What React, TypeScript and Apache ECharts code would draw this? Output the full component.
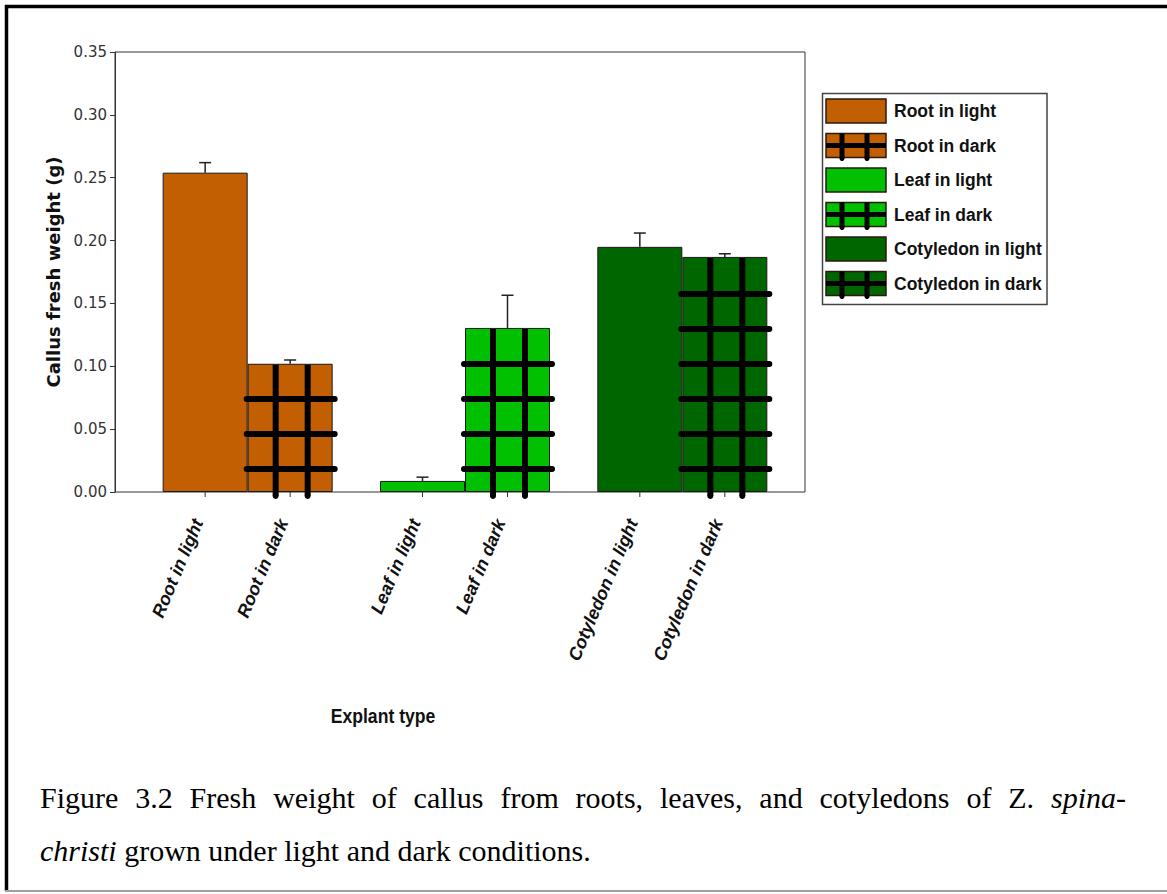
import React, { useEffect, useRef } from "react";
import * as echarts from "echarts";

// ---------- data ----------
const categories = ["Root", "Leaf", "Cotyledon"];
const seriesNames = [
  "Root in light",
  "Root in dark",
  "Leaf in light",
  "Leaf in dark",
  "Cotyledon in light",
  "Cotyledon in dark",
];
const lightValues = [0.254, 0.0088, 0.195];
const darkValues = [0.102, 0.1305, 0.187];
const lightErrors = [0.008, 0.003, 0.011];
const darkErrors = [0.003, 0.026, 0.0025];
const yMin = 0;
const yMax = 0.35;
const yInterval = 0.05;
const captionLine1 = [
  "Figure", "3.2", "Fresh", "weight", "of", "callus", "from", "roots,",
  "leaves,", "and", "cotyledons", "of", "Z.", "spina-",
];
const captionLine1Italic = [false, false, false, false, false, false, false, false, false, false, false, false, false, true];
const captionLine2Italic = "christi";
const captionLine2Rest = "grown under light and dark conditions.";
const yAxisTitle = "Callus fresh weight (g)";
const xAxisTitle = "Explant type";

// ---------- styles ----------
const groupColors = ["#C25F03", "#00C000", "#006600"];
const BAR_W = 85;

function measure(text: string, font: string): number {
  const c = document.createElement("canvas").getContext("2d")!;
  c.font = font;
  return c.measureText(text).width;
}
function hasFont(name: string): boolean {
  const t = "Explant type abcdefghij 0123";
  return measure(t, `20px monospace`) !== measure(t, `20px "${name}", monospace`);
}

export default function App() {
  const ref = useRef<HTMLDivElement>(null);
  useEffect(() => {
    document.body.style.margin = "0";
    const chart = echarts.init(ref.current!, undefined, { renderer: "svg" });
    const narrow = hasFont("Liberation Sans Narrow");
    const explantFont = narrow
      ? 'bold 21px "Liberation Sans Narrow", sans-serif'
      : 'bold 20px "Liberation Sans", sans-serif';
    const explantScaleX = narrow ? 1 : 0.88;

    const barSeries: any[] = [];
    categories.forEach((_, i) => {
      barSeries.push({
        type: "bar",
        name: seriesNames[2 * i],
        xAxisIndex: 1,
        yAxisIndex: 1,
        stack: "light",
        barWidth: BAR_W,
        barGap: "0%",
        data: categories.map((__, j) => (j === i ? lightValues[i] : null)),
        itemStyle: { color: groupColors[i], borderColor: "#1a1a1a", borderWidth: 1 },
        z: 2,
      });
      barSeries.push({
        type: "bar",
        name: seriesNames[2 * i + 1],
        xAxisIndex: 1,
        yAxisIndex: 1,
        stack: "dark",
        barWidth: BAR_W,
        barGap: "0%",
        data: categories.map((__, j) => (j === i ? darkValues[i] : null)),
        itemStyle: { color: groupColors[i], borderColor: "#1a1a1a", borderWidth: 1 },
        z: 2,
      });
    });

    const overlayData: any[] = [];
    categories.forEach((_, i) => {
      overlayData.push([i, lightValues[i], lightErrors[i], 0]);
      overlayData.push([i, darkValues[i], darkErrors[i], 1]);
    });

    const overlay = {
      type: "custom",
      xAxisIndex: 1,
      yAxisIndex: 1,
      silent: true,
      clip: false,
      z: 5,
      encode: { x: 0, y: 1 },
      data: overlayData,
      renderItem: (params: any, api: any) => {
        const cat = api.value(0);
        const v = api.value(1);
        const e = api.value(2);
        const slot = api.value(3);
        const base = api.coord([cat, 0]);
        const half = BAR_W / 2;
        const cx = base[0] + (slot === 0 ? -half : half);
        const left = cx - half;
        const right = cx + half;
        const y0 = base[1];
        const yTop = api.coord([cat, v])[1];
        const yErr = api.coord([cat, v + e])[1];
        const children: any[] = [];
        if (slot === 1) {
          const h = y0 - yTop;
          for (let d = 23; d < h - 12; d += 35) {
            children.push({
              type: "line",
              shape: { x1: left - 1, y1: y0 - d, x2: right + 2, y2: y0 - d },
              style: { stroke: "#000", lineWidth: 6, lineCap: "round" },
            });
          }
          [28, 60].forEach((dx) => {
            children.push({
              type: "line",
              shape: { x1: left + dx, y1: yTop + 1, x2: left + dx, y2: y0 + 4 },
              style: { stroke: "#000", lineWidth: 6, lineCap: "butt" },
            });
            children.push({
              type: "circle",
              shape: { cx: left + dx, cy: y0 + 4, r: 3 },
              style: { fill: "#000" },
            });
          });
        }
        children.push({
          type: "line",
          shape: { x1: cx, y1: yTop, x2: cx, y2: yErr },
          style: { stroke: "#222", lineWidth: 1.5 },
        });
        children.push({
          type: "line",
          shape: { x1: cx - 6, y1: yErr, x2: cx + 6, y2: yErr },
          style: { stroke: "#222", lineWidth: 1.5 },
        });
        children.push({
          type: "line",
          shape: { x1: cx, y1: y0, x2: cx, y2: y0 + 5 },
          style: { stroke: "#333", lineWidth: 1 },
        });
        children.push({
          type: "text",
          x: cx - 7,
          y: y0 + 28,
          rotation: (67 * Math.PI) / 180,
          style: {
            text: seriesNames[params.dataIndex],
            font: 'italic bold 18px "Liberation Sans", Arial, sans-serif',
            fill: "#111",
            align: "right",
            verticalAlign: "middle",
          },
        });
        return { type: "group", children };
      },
    };

    const legendChildren: any[] = [
      {
        type: "rect",
        shape: { x: 822.5, y: 93.5, width: 224.5, height: 211 },
        style: { fill: "#fff", stroke: "#444", lineWidth: 1.5 },
      },
    ];
    seriesNames.forEach((name, k) => {
      const g = Math.floor(k / 2);
      const dark = k % 2 === 1;
      const top = 99 + k * 34.5;
      const x = 826;
      const w = 60;
      const h = 24;
      legendChildren.push({
        type: "rect",
        shape: { x, y: top, width: w, height: h },
        style: { fill: groupColors[g], stroke: "#2a1a10", lineWidth: 1.5 },
      });
      if (dark) {
        legendChildren.push({
          type: "line",
          shape: { x1: x, y1: top + h / 2, x2: x + w, y2: top + h / 2 },
          style: { stroke: "#000", lineWidth: 5 },
        });
        [16, 41].forEach((dx) => {
          legendChildren.push({
            type: "line",
            shape: { x1: x + dx, y1: top, x2: x + dx, y2: top + h + 1 },
            style: { stroke: "#000", lineWidth: 5 },
          });
          legendChildren.push({
            type: "circle",
            shape: { cx: x + dx, cy: top + h + 1, r: 2.5 },
            style: { fill: "#000" },
          });
        });
      }
      legendChildren.push({
        type: "text",
        x: 894,
        y: top + h / 2,
        style: {
          text: name,
          font: 'bold 17.5px "Liberation Sans", Arial, sans-serif',
          fill: "#111",
          align: "left",
          verticalAlign: "middle",
        },
      });
    });

    const capFont = '30px "Liberation Serif", "Times New Roman", serif';
    const capFontI = 'italic 30px "Liberation Serif", "Times New Roman", serif';
    const widths = captionLine1.map((w, i) => measure(w, captionLine1Italic[i] ? capFontI : capFont));
    const total = widths.reduce((a, b) => a + b, 0);
    const x0 = 40;
    const x1 = 1126;
    const gap = (x1 - x0 - total) / (captionLine1.length - 1);
    const captionChildren: any[] = [];
    let cxp = x0;
    captionLine1.forEach((w, i) => {
      captionChildren.push({
        type: "text",
        x: cxp,
        y: 797,
        style: {
          text: w,
          font: captionLine1Italic[i] ? capFontI : capFont,
          fill: "#000",
          align: "left",
          verticalAlign: "middle",
        },
      });
      cxp += widths[i] + gap;
    });
    const wI = measure(captionLine2Italic, capFontI);
    const wSp = measure(" ", capFont);
    captionChildren.push({
      type: "text",
      x: x0,
      y: 850,
      style: { text: captionLine2Italic, font: capFontI, fill: "#000", align: "left", verticalAlign: "middle" },
    });
    captionChildren.push({
      type: "text",
      x: x0 + wI + wSp,
      y: 850,
      style: { text: captionLine2Rest, font: capFont, fill: "#000", align: "left", verticalAlign: "middle" },
    });

    const option: any = {
      animation: false,
      backgroundColor: "#fff",
      grid: [
        {
          left: 115, top: 52, width: 690, height: 440,
          show: true, borderColor: "#333", borderWidth: 1, backgroundColor: "transparent",
          outerBoundsMode: "none",
        },
        { left: 139, top: 52, width: 652, height: 440, outerBoundsMode: "none" },
      ],
      xAxis: [
        { gridIndex: 0, type: "value", min: 0, max: 1, show: false },
        { gridIndex: 1, type: "category", data: categories, show: false },
      ],
      yAxis: [
        {
          gridIndex: 0,
          type: "value",
          min: yMin,
          max: yMax,
          interval: yInterval,
          name: yAxisTitle,
          nameLocation: "middle",
          nameRotate: 90,
          nameGap: 52,
          nameTextStyle: {
            fontFamily: '"DejaVu Sans", Verdana, sans-serif',
            fontWeight: "bold",
            fontSize: 18,
            color: "#111",
          },
          axisLine: { show: true, lineStyle: { color: "#333", width: 1 } },
          axisTick: { show: true, length: 5, lineStyle: { color: "#333" } },
          axisLabel: {
            margin: 8,
            formatter: (v: number) => v.toFixed(2),
            fontFamily: '"DejaVu Sans", sans-serif',
            fontSize: 15,
            color: "#333",
          },
          splitLine: { show: false },
        },
        { gridIndex: 1, type: "value", min: yMin, max: yMax, interval: yInterval, show: false },
      ],
      series: [...barSeries, overlay],
      graphic: [
        {
          type: "line",
          shape: { x1: 5, y1: 6.5, x2: 1167, y2: 6.5 },
          style: { stroke: "#000", lineWidth: 3.5 },
        },
        {
          type: "line",
          shape: { x1: 6.5, y1: 5, x2: 6.5, y2: 891 },
          style: { stroke: "#000", lineWidth: 3.5 },
        },
        {
          type: "line",
          shape: { x1: 5, y1: 891, x2: 1167, y2: 891 },
          style: { stroke: "#a0a0a0", lineWidth: 2 },
        },
        {
          type: "text",
          x: 383,
          y: 716,
          scaleX: explantScaleX,
          style: {
            text: xAxisTitle,
            font: explantFont,
            fill: "#111",
            align: "center",
            verticalAlign: "middle",
          },
        },
        { type: "group", children: legendChildren },
        { type: "group", children: captionChildren },
      ],
    };
    chart.setOption(option);
    return () => chart.dispose();
  }, []);
  return (
    <div
      ref={ref}
      style={{ position: "fixed", left: 0, top: 0, width: 1167, height: 894 }}
    />
  );
}
